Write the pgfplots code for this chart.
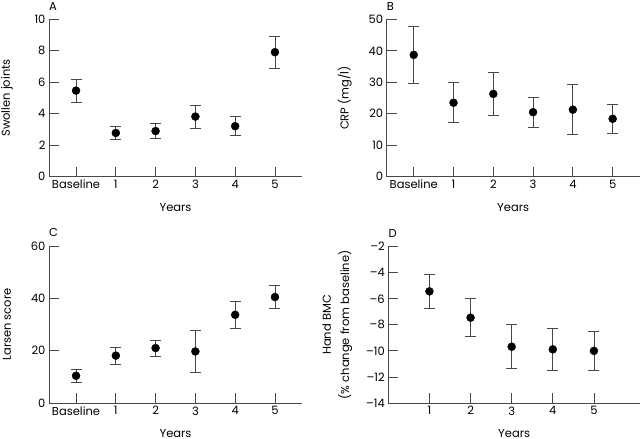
\documentclass[border=0pt]{standalone}
\usepackage{fontspec}
\setmainfont{Poppins}
\usepackage{pgfplots}
\pgfplotsset{compat=1.18}
\definecolor{ax}{gray}{0.28}
\pgfplotsset{
 panel/.style={
  scale only axis, width=253pt, height=157.4pt,
  axis x line=bottom, axis y line=left,
  axis line style={-, ax, line width=0.8pt},
  tick align=inside, major tick length=10pt,
  tick style={ax, line width=0.8pt},
  xtick={0,...,5}, xticklabels={Baseline,1,2,3,4,5},
  xmin=-0.68, xmax=5.68,
  font=\fontsize{11.5}{13}\selectfont,
  /pgf/number format/assume math mode=true,
  clip=false,
 },
 pts/.style={only marks, mark=*, mark size=4pt, black,
  error bars/.cd, y dir=both, y explicit,
  error bar style={ax, line width=0.8pt},
  error mark options={rotate=90, mark size=5.5pt, ax, line width=0.8pt}},
}
\begin{document}
\begin{tikzpicture}
\path[use as bounding box] (0,0) rectangle (640pt,439pt);
% A
\begin{axis}[panel, at={(49pt,262.3pt)}, anchor=south west,
  ymin=0, ymax=10, ytick={0,2,...,10}]
\addplot[pts] table[x=x, y=y, y error=e] {
x y e
0 5.47 0.73
1 2.78 0.40
2 2.90 0.48
3 3.82 0.74
4 3.21 0.61
5 7.91 1.02
};
\node[anchor=west, inner sep=0pt] at ([yshift=12.6pt]rel axis cs:0,1) {A};
\node at ([yshift=-31pt]rel axis cs:0.5,0) {Years};
\node[rotate=90] at ([xshift=-42pt]rel axis cs:0,0.5) {Swollen joints};
\end{axis}
% B
\begin{axis}[panel, at={(386.7pt,262.3pt)}, anchor=south west,
  ymin=0, ymax=50, ytick={0,10,...,50}]
\addplot[pts] table[x=x, y=y, y error=e] {
x y e
0 38.7 9.2
1 23.5 6.3
2 26.3 6.8
3 20.5 4.8
4 21.3 7.9
5 18.4 4.6
};
\node[anchor=west, inner sep=0pt] at ([yshift=12.6pt]rel axis cs:0,1) {B};
\node at ([yshift=-31pt]rel axis cs:0.5,0) {Years};
\node[rotate=90] at ([xshift=-42pt]rel axis cs:0,0.5) {CRP (mg/l)};
\end{axis}
% C
\begin{axis}[panel, at={(49pt,36pt)}, anchor=south west, height=157pt,
  ymin=0, ymax=60, ytick={0,20,...,60}]
\addplot[pts] table[x=x, y=y, y error=e] {
x y e
0 10.4 2.4
1 18.1 3.2
2 21.0 3.0
3 19.7 7.9
4 33.7 5.2
5 40.5 4.3
};
\node[anchor=west, inner sep=0pt] at ([yshift=14pt]rel axis cs:0,1) {C};
\node at ([yshift=-31pt]rel axis cs:0.5,0) {Years};
\node[rotate=90] at ([xshift=-42pt]rel axis cs:0,0.5) {Larsen score};
\end{axis}
% D
\begin{axis}[panel, at={(388.3pt,36pt)}, anchor=south west, width=251.7pt, height=156.3pt,
  xmin=0, xmax=6.12, xtick={1,...,5}, xticklabels={1,2,3,4,5},
  ymin=-14, ymax=-2, ytick={-14,-12,...,-2},
  yticklabels={–14,–12,–10,–8,–6,–4,–2}]
\addplot[pts] table[x=x, y=y, y error=e] {
x y e
1 -5.43 1.30
2 -7.45 1.45
3 -9.68 1.70
4 -9.88 1.60
5 -10.00 1.50
};
\node[anchor=west, inner sep=0pt] at ([yshift=13.4pt]rel axis cs:0,1) {D};
\node at ([yshift=-31pt]rel axis cs:0.5,0) {Years};
\node[rotate=90, align=center, font=\fontsize{11.5}{18.4}\selectfont] at ([xshift=-51pt]rel axis cs:0,0.5) {Hand BMC\\(\% change from baseline)};
\end{axis}
\end{tikzpicture}
\end{document}
